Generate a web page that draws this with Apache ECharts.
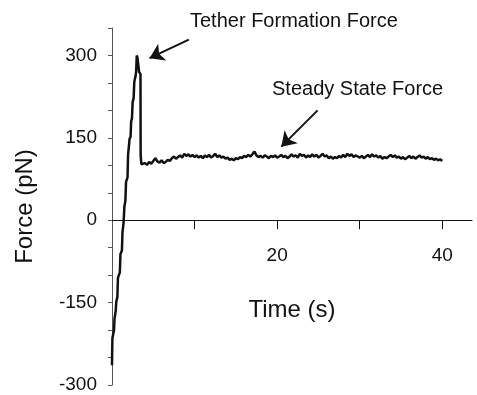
<!DOCTYPE html>
<html>
<head>
<meta charset="utf-8">
<title>Tether force</title>
<script src="https://cdn.jsdelivr.net/npm/echarts@6/dist/echarts.min.js"></script>
<style>
  html, body { margin: 0; padding: 0; background: #fff; }
  #chart { width: 477px; height: 395px; }
</style>
</head>
<body>
<div id="chart"></div>
<script>
// loading ramp up to tether formation (time s, force pN)
const rampTime = [0.00, 0.02, 0.05, 0.25, 0.30, 0.45, 0.52, 0.65, 0.72, 0.95, 1.02, 1.20, 1.27, 1.40, 1.50, 1.62, 1.70, 1.88, 1.95, 2.08, 2.12, 2.25, 2.32, 2.42, 2.50, 2.62, 2.70, 2.85, 2.92, 3.00, 3.08, 3.15, 3.25, 3.28, 3.45, 3.47, 3.55, 3.75]
const rampForce = [-264, -240, -215, -200, -180, -165, -148, -140, -105, -95, -62, -55, -22, -5, 25, 35, 70, 78, 120, 140, 148, 152, 180, 186, 215, 222, 252, 262, 270, 300, 296, 288, 290, 270, 266, 120, 102, 104]

// steady state force, sampled every 0.25 s from 4 s to 40 s
const STEADY_T0 = 4
const STEADY_DT = 0.25
const steadyForce = [
  104, 101, 106, 103, 108, 113, 107, 105, 109, 104, 106, 110, 108, 113, 116, 112,
  115, 118, 114, 121, 117, 120, 116, 119, 115, 118, 114, 117, 113, 118, 115, 119,
  114, 117, 121, 115, 118, 114, 116, 112, 114, 110, 112, 109, 113, 111, 115, 113,
  117, 115, 119, 116, 120, 125, 118, 115, 117, 114, 118, 116, 113, 117, 115, 118,
  114, 116, 119, 115, 117, 113, 116, 120, 116, 118, 114, 121, 117, 119, 114, 118,
  115, 120, 116, 119, 114, 117, 121, 116, 118, 113, 116, 112, 115, 113, 117, 114,
  119, 115, 121, 117, 120, 115, 118, 116, 114, 117, 113, 116, 119, 115, 120, 116,
  118, 114, 117, 112, 115, 113, 116, 119, 115, 118, 114, 116, 112, 115, 111, 114,
  117, 113, 116, 112, 115, 118, 114, 116, 112, 115, 111, 113, 110, 112, 109, 111,
  108
]

const yTicks = [-300, -250, -200, -150, -100, -50, 0, 50, 100, 150, 200, 250, 300, 350]
const yLabels = [-300, -150, 0, 150, 300]
const xTicks = [10, 20, 30, 40]
const xLabels = [20, 40]

// annotation arrows: [tail, head] in data units
const tetherArrow = [[9.3, 329], [4.55, 295]]
const steadyArrow = [[24.9, 200], [20.5, 134]]

const FONT = 'Liberation Sans, Arial, sans-serif'

const trace = []
rampTime.forEach((t, i) => trace.push([t, rampForce[i]]))
steadyForce.forEach((f, i) => trace.push([STEADY_T0 + i * STEADY_DT, f]))

const chart = echarts.init(document.getElementById('chart'))

// x labels and name stay at the grid bottom in v6 even with onZero,
// so they are pulled back up next to the zero line with negative gaps
chart.setOption({
  animation: false,
  backgroundColor: '#fff',
  grid: { left: 112, right: 5, top: 28, bottom: 10, outerBoundsMode: 'none' },
  xAxis: {
    type: 'value',
    min: 0,
    max: 43.6,
    name: 'Time (s)',
    nameLocation: 'middle',
    nameGap: -87,
    nameTextStyle: { fontFamily: FONT, fontSize: 24, color: '#111' },
    axisLine: { onZero: true, lineStyle: { color: '#111', width: 1 } },
    axisTick: { customValues: xTicks, length: 9, lineStyle: { color: '#111' } },
    axisLabel: { customValues: xLabels, fontFamily: FONT, fontSize: 19, color: '#111', margin: -139 },
    splitLine: { show: false }
  },
  yAxis: {
    type: 'value',
    min: -300,
    max: 350,
    name: 'Force (pN)',
    nameLocation: 'middle',
    nameRotate: 90,
    nameGap: 75,
    nameTextStyle: { fontFamily: FONT, fontSize: 24, color: '#111' },
    axisLine: { show: true, lineStyle: { color: '#555', width: 1 } },
    axisTick: { customValues: yTicks, length: 4, lineStyle: { color: '#555' } },
    axisLabel: { customValues: yLabels, fontFamily: FONT, fontSize: 19, color: '#111', margin: 15 },
    splitLine: { show: false }
  },
  graphic: [
    { type: 'text', left: 190, top: 11, style: { text: 'Tether Formation Force', font: '20px ' + FONT, fill: '#111' } },
    { type: 'text', left: 272, top: 79, style: { text: 'Steady State Force', font: '20px ' + FONT, fill: '#111' } }
  ],
  series: [
    {
      type: 'line',
      data: trace,
      showSymbol: false,
      lineStyle: { color: '#111', width: 2.5 },
      markLine: {
        silent: true,
        symbol: ['none', 'arrow'],
        symbolSize: 14,
        label: { show: false },
        lineStyle: { color: '#111', width: 2, type: 'solid' },
        data: [
          [{ coord: tetherArrow[0] }, { coord: tetherArrow[1] }],
          [{ coord: steadyArrow[0] }, { coord: steadyArrow[1] }]
        ]
      }
    }
  ]
})
</script>
</body>
</html>
